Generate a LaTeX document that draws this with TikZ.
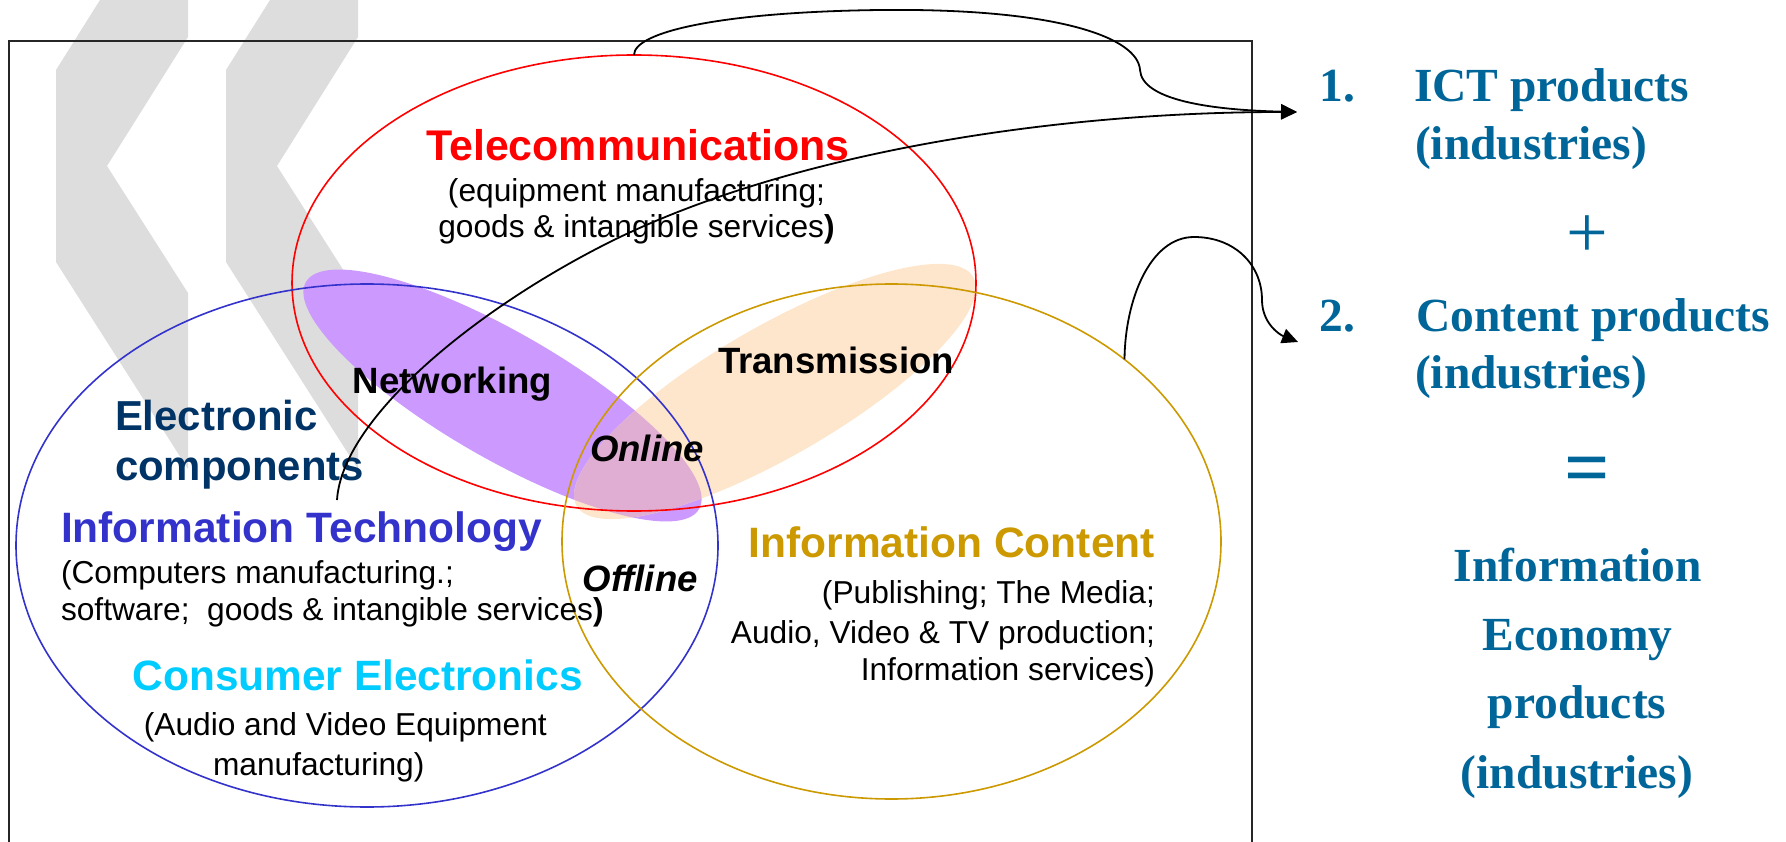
\documentclass[tikz,border=0pt]{standalone}
\usepackage{fontspec}
\setmainfont{Liberation Sans}
\newfontfamily\tnr{Liberation Serif}
\usetikzlibrary{shapes.geometric,arrows.meta}
\definecolor{telered}{RGB}{255,0,0}
\definecolor{itblue}{RGB}{51,51,204}
\definecolor{goldc}{RGB}{204,153,0}
\definecolor{navyc}{RGB}{0,51,102}
\definecolor{cyanc}{RGB}{0,204,255}
\definecolor{rightblue}{RGB}{0,102,153}
\definecolor{purp}{RGB}{204,153,255}
\definecolor{peach}{RGB}{254,230,205}
\definecolor{pinkov}{RGB}{224,174,210}
\definecolor{chev}{RGB}{221,221,221}
\newcommand\fs[1]{\fontsize{#1}{#1}\selectfont}
\begin{document}
\begin{tikzpicture}[x=1pt,y=-1pt,
  lbl/.style={inner sep=0pt, outer sep=0pt},
  head/.style={lbl, font=\bfseries\fs{42.5}},
  sub/.style={lbl, font=\fs{31.7}},
  zone/.style={lbl, font=\bfseries\fs{36.6}},
  zonei/.style={lbl, font=\bfseries\itshape\fs{36.6}},
  rt/.style={lbl, font=\tnr\bfseries\fs{47.5}, text=rightblue},
  ring/.style={ellipse, inner sep=0pt, outer sep=0pt, line width=1.6pt},
  blob/.style={ellipse, inner sep=0pt, outer sep=0pt, draw=none},
  conn/.style={line width=1.8pt, -{Triangle[length=16pt,width=15pt]}},
  frame/.style={line width=1.5pt, draw=black!85}]
\useasboundingbox (0,0) rectangle (1786,842);
% background chevrons
\fill[chev] (100,0) -- (188,0) -- (188,37) -- (107,166) -- (188,293) -- (188,469) -- (56,262) -- (56,70) -- cycle;
\fill[chev] (270,0) -- (358,0) -- (358,37) -- (277,166) -- (358,293) -- (358,469) -- (226,262) -- (226,70) -- cycle;
% frame
\draw[frame] (9,842) -- (9,41) -- (1252,41) -- (1252,842);
% shaded zones
\node[blob, fill=purp, minimum width=454pt, minimum height=126pt, rotate=-30] (netw) at (502.5,395.5) {};
\node[blob, fill=peach, minimum width=458pt, minimum height=130pt, rotate=30] (trans) at (775,391.5) {};
\begin{scope}
  \clip[rotate around={-30:(502.5,395.5)}] (502.5,395.5) ellipse [x radius=227, y radius=63];
  \fill[pinkov, rotate around={30:(775,391.5)}] (775,391.5) ellipse [x radius=229, y radius=65];
\end{scope}
% rings
\node[ring, draw=telered, minimum width=684pt, minimum height=456pt] (tele) at (634,283) {};
\node[ring, draw=itblue, minimum width=702pt, minimum height=523pt] (itring) at (367,545.5) {};
\node[ring, draw=goldc, minimum width=659pt, minimum height=515pt] (content) at (891.5,541.5) {};
% texts
\node[head, text=telered, font=\bfseries\fs{42.9}, anchor=base] (telelbl) at (638,160.7) {Telecommunications};
\node[sub, anchor=base] (telesub1) at (636.5,202) {(equipment manufacturing;};
\node[sub, anchor=base] (telesub2) at (636.5,238) {goods \& intangible services\textbf{)}};
\node[zone, anchor=base west] (netlbl) at (352.7,393) {Networking};
\node[zone, anchor=base west] (translbl) at (718,373) {Transmission};
\node[zonei, anchor=base west] (onlbl) at (590,461.7) {Online};
\node[zonei, anchor=base west] (offlbl) at (582.6,591.7) {Offline};
\node[head, text=navyc, font=\bfseries\fs{41.9}, anchor=base west] (elec1) at (115,430) {Electronic};
\node[head, text=navyc, font=\bfseries\fs{41.9}, anchor=base west] (elec2) at (115,480) {components};
\node[head, text=itblue, anchor=base west] (itlbl) at (61,542.7) {Information Technology};
\node[sub, anchor=base west] (itsub1) at (61,583) {(Computers manufacturing.;};
\node[sub, anchor=base west] (itsub2) at (61,620) {software;\ \ goods \& intangible services\textbf{)}};
\node[head, text=cyanc, font=\bfseries\fs{42.4}, anchor=base west] (celbl) at (132.6,690) {Consumer Electronics};
\node[sub, anchor=base west] (cesub1) at (143.8,735) {(Audio and Video Equipment};
\node[sub, anchor=base west] (cesub2) at (213,775) {manufacturing)};
\node[head, text=goldc, anchor=base west] (iclbl) at (748.7,557) {Information Content};
\node[sub, anchor=base east] (icsub1) at (1155,603) {(Publishing; The Media;};
\node[sub, anchor=base east] (icsub2) at (1155,643) {Audio, Video \& TV production;};
\node[sub, anchor=base east] (icsub3) at (1155,680) {Information services)};
% right column
\node[rt, anchor=base west] (n1) at (1319.6,101.7) {1.};
\node[rt, anchor=base west] (ict) at (1414,101.7) {ICT products};
\node[rt, anchor=base west] (ind1) at (1415,160) {(industries)};
\node[rt, font=\tnr\fs{74}] (plus) at (1587,237) {+};
\node[rt, anchor=base west] (n2) at (1319.6,331.7) {2.};
\node[rt, anchor=base west] (cont) at (1416,331.7) {Content products};
\node[rt, anchor=base west] (ind2) at (1415,388.3) {(industries)};
\node[rt, font=\tnr\bfseries\fs{80}] (eq) at (1587,476) {=};
\node[rt, anchor=base] (ie1) at (1578,581.7) {Information};
\node[rt, anchor=base] (ie2) at (1577.5,650) {Economy};
\node[rt, anchor=base] (ie3) at (1577,718) {products};
\node[rt, anchor=base] (ie4) at (1577,788) {(industries)};
% connectors
\coordinate (t1) at (1297,112);
\coordinate (t2) at (1298,342);
\coordinate (itstart) at (337,500);
\draw[conn] (tele.north) .. controls (634,32) and (720,12) .. (880,10)
  .. controls (1060,8) and (1138,38) .. (1140,70)
  .. controls (1142,100) and (1210,110) .. (t1);
\draw[conn] (itstart) .. controls (342,420) and (470,314) .. (600,247)
  .. controls (780,154) and (1050,112) .. (t1);
\draw[conn] (content.38) .. controls (1125,300) and (1150,237) .. (1194,237)
  .. controls (1235,237) and (1262,265) .. (1262,300)
  .. controls (1262,322) and (1278,334) .. (t2);
\end{tikzpicture}
\end{document}
